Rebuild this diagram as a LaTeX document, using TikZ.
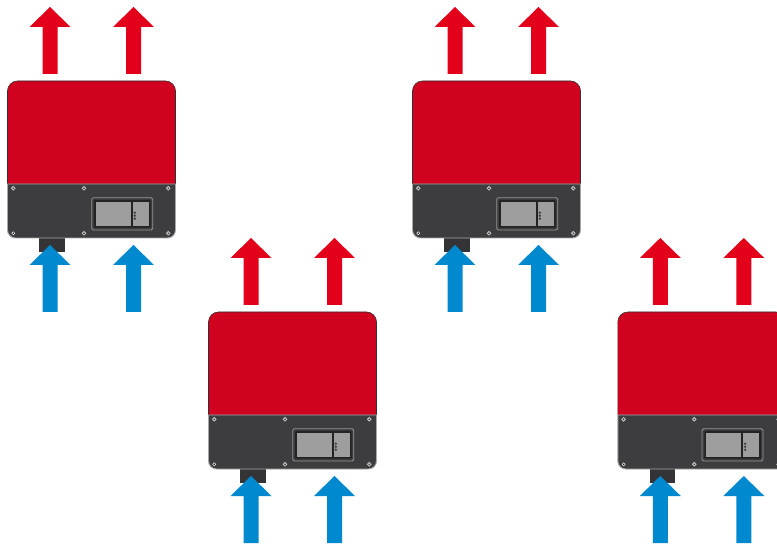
\documentclass[tikz,border=0pt]{standalone}
\begin{document}
\definecolor{bodyred}{HTML}{D0021F}
\definecolor{flowred}{HTML}{E2001A}
\definecolor{flowblue}{HTML}{0089CF}
\definecolor{housing}{HTML}{3D3C3F}
\definecolor{rimgray}{HTML}{A8A8A8}
\definecolor{panelgray}{HTML}{9E9E9E}
\definecolor{framedark}{HTML}{232323}
\begin{tikzpicture}[x=1pt,y=-1pt,
  hotarrow/.style={fill=flowred},
  coldarrow/.style={fill=flowblue},
  redcover/.style={fill=bodyred,draw=housing!80!black,line width=0.6pt},
  lowercase/.style={fill=housing,draw=rimgray,line width=0.9pt},
  screwhead/.style={fill=housing,draw=rimgray!60!white,line width=0.8pt},
  inverter/.pic={
    % outgoing warm air
    \foreach \cx in {42.5,126}{
      \fill[hotarrow] (\cx-7.5,-7) -- (\cx-7.5,-54) -- (\cx-20.5,-54) -- (\cx,-74)
        -- (\cx+20.5,-54) -- (\cx+7.5,-54) -- (\cx+7.5,-7) -- cycle;
    }
    % cable connector below the housing
    \fill[housing!85!black] (31.8,155) rectangle (57.5,171);
    % upper red cover
    \path[redcover] (0,103) [rounded corners=10pt] -- (0,0) -- (168,0) [sharp corners] -- (168,103);
    \fill[bodyred] (0.3,103) rectangle (167.7,10);
    % lower dark housing
    \path[lowercase] (168,103) -- (0,103) [rounded corners=8pt] -- (0,157) -- (168,157) [sharp corners] -- (168,103) -- cycle;
    % display unit
    \draw[fill=housing,draw=rimgray!90!black,line width=0.8pt,rounded corners=1.5pt]
      (84.2,116.7) rectangle (145.2,149);
    \fill[framedark,rounded corners=1pt] (86.5,119) rectangle (143.2,146.7);
    \fill[panelgray] (88.5,121.3) rectangle (123.5,144.7);
    \fill[panelgray] (125.2,121.3) rectangle (141.5,144.7);
    \foreach \dy in {131.7,134.7,137.7}{
      \fill[housing] (127.3,\dy) circle[radius=1.3];
    }
    % fixing screws
    \foreach \sx/\sy in {5.8/107.3,76.5/107.3,160.8/107.3,76.5/152.3,160.8/152.3}{
      \draw[screwhead] (\sx,\sy) circle[radius=1.8];
    }
    \draw[fill=black,draw=white,line width=0.5pt] (5.8,152.3) circle[radius=1.5];
    % incoming cool air
    \foreach \cx in {42.5,126}{
      \fill[coldarrow] (\cx-7.5,231) -- (\cx-7.5,184) -- (\cx-20.5,184) -- (\cx,164)
        -- (\cx+20.5,184) -- (\cx+7.5,184) -- (\cx+7.5,231) -- cycle;
    }
  }]
  \clip (0,0) rectangle (777,545);
  \fill[white] (0,0) rectangle (777,545);
  \pic (invA) at (7.5,81) {inverter};
  \pic (invB) at (208.5,312) {inverter};
  \pic (invC) at (412.5,81) {inverter};
  \pic (invD) at (617.8,312) {inverter};
\end{tikzpicture}
\end{document}
